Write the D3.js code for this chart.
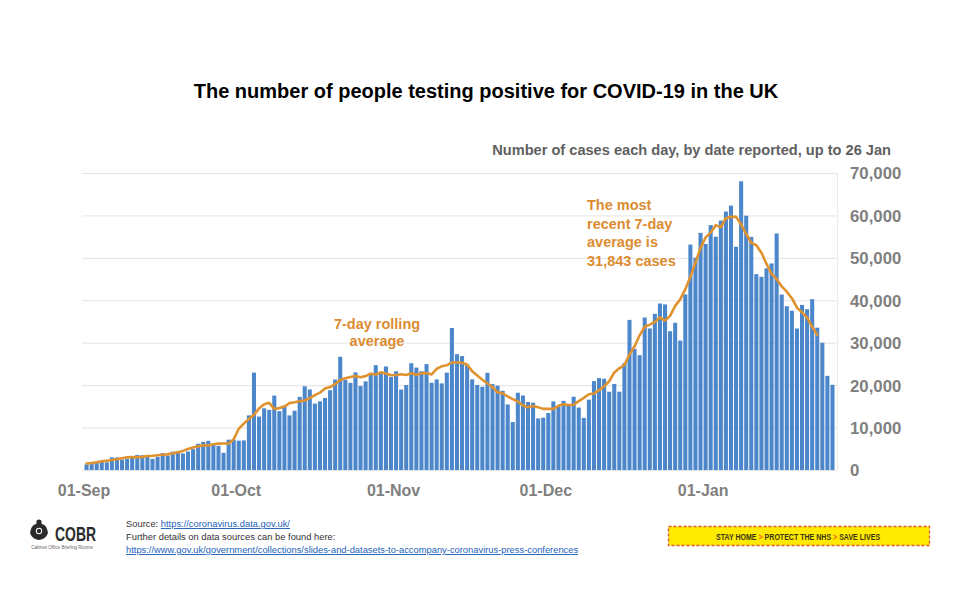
<!DOCTYPE html>
<html><head><meta charset="utf-8">
<script src="https://cdn.jsdelivr.net/npm/d3@7"></script>
<style>
html,body{margin:0;padding:0;background:#fff;}
svg{display:block;font-family:"Liberation Sans",Arial,sans-serif;}
</style></head>
<body>
<svg id="chart" width="958" height="607"></svg>
<script>
// Daily cases by date reported (UK), 1 Sep 2020 – 26 Jan 2021
const casesSep = [1295,1508,1735,1940,1813,2988,2948,2460,2659,2919,3539,3497,3330,2621,3105,3991,3395,4322,4422,3899,4368,4926,6178,6634,6874,6042,5693,4044,7143,7108];
const casesOct = [6914,6968,12872,22961,12594,14542,14162,17540,13864,15166,12872,13972,17234,19724,18980,15650,16171,16982,18804,21331,26688,21242,20530,23012,19790,20890,22885,24701,23065,24405,21915];
const casesNov = [23254,18950,20018,25177,24141,23287,24957,20572,21350,20412,22950,33470,27301,26860,24962,21363,20051,19609,22915,20252,19875,18662,15450,11299,18213,17555,16022,15871,12155,12330];
const casesDec = [13430,16170,14879,16298,15539,17272,14718,12282,16578,20964,21672,21502,18447,20263,18450,25161,35383,28507,27052,35928,33364,36804,39237,39036,32725,34693,30501,41385,53135,50023,55892];
const casesJan = [53285,57725,54990,58784,60916,62322,52618,68053,59937,54940,46169,45533,47525,48682,55761,41346,38598,37535,33355,38905,37892,40261,33552,30004,22195,20089];

// 7-day rolling average (centred), 1 Sep 2020 – 23 Jan 2021
const avgSep = [1530,1630,1812,2032,2199,2363,2532,2761,3001,3050,3004,3096,3286,3354,3466,3598,3679,3929,4189,4501,4964,5329,5560,5816,5770,6087,6220,6260,6273,7249];
const avgOct = [9716,10937,11994,13002,14520,15505,15833,14391,14588,14973,15767,15973,16228,16372,16959,17649,18235,19229,19553,20250,21227,21628,21926,22148,21864,22125,22678,22522,23016,22739,22330];
const avgNov = [22398,22551,22392,22826,22443,22786,22842,22524,23857,24430,24702,25329,25331,25280,24802,23294,22287,21290,20390,19545,18295,18095,17329,16725,16153,15224,14778,15082,14790,14408];
const avgDec = [14448,14400,15131,15472,15308,15367,16236,17004,17855,18023,18815,19697,20923,22983,23959,24752,27249,29121,31743,33754,34275,34878,35970,35194,36340,38673,40214,42622,45559,48849,52348];
const avgJan = [54833,55945,57702,57234,59344,59660,59653,57851,55653,53539,52977,51221,48565,46231,44997,43257,42026,40485,38270,37157,35929,33738,31843];

const yTicks = [0,10000,20000,30000,40000,50000,60000,70000];
const xTickLabels = ["01-Sep","01-Oct","01-Nov","01-Dec","01-Jan"];
const xTickDates = ["2020-09-01","2020-10-01","2020-11-01","2020-12-01","2021-01-01"];

const parse = d3.timeParse("%Y-%m-%d");
const fmtKey = d3.timeFormat("%Y-%m-%d");
const days = d3.timeDay.range(parse("2020-09-01"), parse("2021-01-27"));
const cases = [].concat(casesSep, casesOct, casesNov, casesDec, casesJan);
const avg = [].concat(avgSep, avgOct, avgNov, avgDec, avgJan);
const barData = days.map((d,i)=>({key:fmtKey(d), v:cases[i]}));
const lineData = avg.map((v,i)=>({key:fmtKey(days[i]), v}));

const svg = d3.select("#chart");
const x = d3.scaleBand().domain(barData.map(d=>d.key)).range([84.5, 834.5]).paddingInner(0.2).paddingOuter(0);
const y = d3.scaleLinear().domain([0,70000]).range([470,173]);

// gridlines
const grid = svg.append("g");
grid.selectAll("line").data(yTicks).join("line")
  .attr("x1",82).attr("x2",837)
  .attr("y1",d=>y(d)+0.5).attr("y2",d=>y(d)+0.5)
  .attr("stroke","#e4e4e4").attr("stroke-width",1);
grid.append("line").attr("x1",837.5).attr("x2",837.5).attr("y1",y(70000)).attr("y2",y(0))
  .attr("stroke","#ececec");

// bars
svg.append("g").selectAll("rect").data(barData).join("rect")
  .attr("x",d=>x(d.key)).attr("width",x.bandwidth())
  .attr("y",d=>y(d.v)).attr("height",d=>y(0)-y(d.v))
  .attr("fill","#4c87cb");

// rolling average line
const line = d3.line().x(d=>x(d.key)+x.bandwidth()/2).y(d=>y(d.v)).curve(d3.curveLinear);
svg.append("path").datum(lineData).attr("d",line)
  .attr("fill","none").attr("stroke","#e0922f").attr("stroke-width",2.6)
  .attr("stroke-linejoin","round").attr("stroke-linecap","round");

// y axis (right)
const yAxis = d3.axisRight(y).tickValues(yTicks).tickSize(0).tickPadding(0)
  .tickFormat(d=>d3.format(",")(d));
const ya = svg.append("g").attr("transform","translate(850,0)").call(yAxis);
ya.select(".domain").remove();
ya.selectAll("text").attr("fill","#7f7f7f").attr("font-size","16.8px").attr("font-weight","bold")
  .attr("font-family","'Liberation Sans',Arial,sans-serif").attr("dy","0.35em");

// x axis labels
const xAxis = d3.axisBottom(x).tickValues(xTickDates).tickSize(0).tickPadding(0)
  .tickFormat((d,i)=>xTickLabels[i]);
const xa = svg.append("g").attr("transform","translate(-2.5,485)").call(xAxis);
xa.select(".domain").remove();
xa.selectAll("text").attr("fill","#7f7f7f").attr("font-size","16px").attr("font-weight","bold")
  .attr("font-family","'Liberation Sans',Arial,sans-serif").attr("dy","0.71em");

// title & subtitle
svg.append("text").attr("x",486).attr("y",98).attr("text-anchor","middle")
  .attr("font-size","20px").attr("font-weight","bold").attr("fill","#000")
  .text("The number of people testing positive for COVID-19 in the UK");
svg.append("text").attr("x",891).attr("y",155).attr("text-anchor","end")
  .attr("font-size","14.6px").attr("font-weight","bold").attr("fill","#5f5f5f")
  .text("Number of cases each day, by date reported, up to 26 Jan");

// annotations
const orange = "#dc8c30";
const a1 = svg.append("text").attr("text-anchor","middle").attr("font-size","14.5px")
  .attr("font-weight","bold").attr("fill",orange);
["7-day rolling","average"].forEach((t,i)=>a1.append("tspan").attr("x",377).attr("y",329+i*17).text(t));
const a2 = svg.append("text").attr("font-size","14.5px").attr("font-weight","bold").attr("fill",orange);
["The most","recent 7-day","average is","31,843 cases"].forEach((t,i)=>a2.append("tspan").attr("x",587).attr("y",210+i*18.5).text(t));

// footer: COBR logo
const logo = svg.append("g");
logo.append("path").attr("d","M30,533 q1,-8 6,-9 q3,-4 6,0 q5,1 6,9 q-2,6 -9,7 q-7,-1 -9,-7z").attr("fill","#2b2b2b");
logo.append("circle").attr("cx",39).attr("cy",522).attr("r",2.6).attr("fill","#2b2b2b");
logo.append("circle").attr("cx",39).attr("cy",531).attr("r",3.2).attr("fill","#fff");
logo.append("circle").attr("cx",39).attr("cy",531).attr("r",2.2).attr("fill","#2b2b2b");
logo.append("text").attr("x",55).attr("y",541).attr("font-size","21px").attr("font-weight","bold")
  .attr("fill","#2b2b2b").attr("textLength",41).attr("lengthAdjust","spacingAndGlyphs").text("COBR");
logo.append("text").attr("x",62).attr("y",549).attr("text-anchor","middle").attr("font-size","4.6px")
  .attr("fill","#666").text("Cabinet Office Briefing Rooms");

// footer: sources
const ft = svg.append("g").attr("font-size","9.35px").attr("fill","#333");
const t1 = ft.append("text").attr("x",126).attr("y",527);
t1.append("tspan").text("Source: ");
t1.append("tspan").attr("fill","#1d5fb8").attr("text-decoration","underline").text("https://coronavirus.data.gov.uk/");
ft.append("text").attr("x",126).attr("y",540).text("Further details on data sources can be found here:");
ft.append("text").attr("x",126).attr("y",553).attr("fill","#1d5fb8").attr("text-decoration","underline")
  .text("https://www.gov.uk/government/collections/slides-and-datasets-to-accompany-coronavirus-press-conferences");

// footer: banner
const bn = svg.append("g");
bn.append("rect").attr("x",668.5).attr("y",526.5).attr("width",261).attr("height",19)
  .attr("fill","#ffea00").attr("stroke","#e0572a").attr("stroke-width",1.3).attr("stroke-dasharray","3,2");
const btg = bn.append("g");
const bt = btg.append("text").attr("x",0).attr("y",0)
  .attr("font-size","9.2px").attr("font-weight","bold").attr("fill","#3a3512");
[["STAY HOME ","#3a3512"],["> ","#e8641e"],["PROTECT THE NHS ","#3a3512"],["> ","#e8641e"],["SAVE LIVES","#3a3512"]]
  .forEach(([t,c])=>bt.append("tspan").attr("fill",c).text(t));
const bw = bt.node().getComputedTextLength() || 210;
btg.attr("transform",`translate(716,539.5) scale(${164/bw},1)`);
</script>
</body></html>
